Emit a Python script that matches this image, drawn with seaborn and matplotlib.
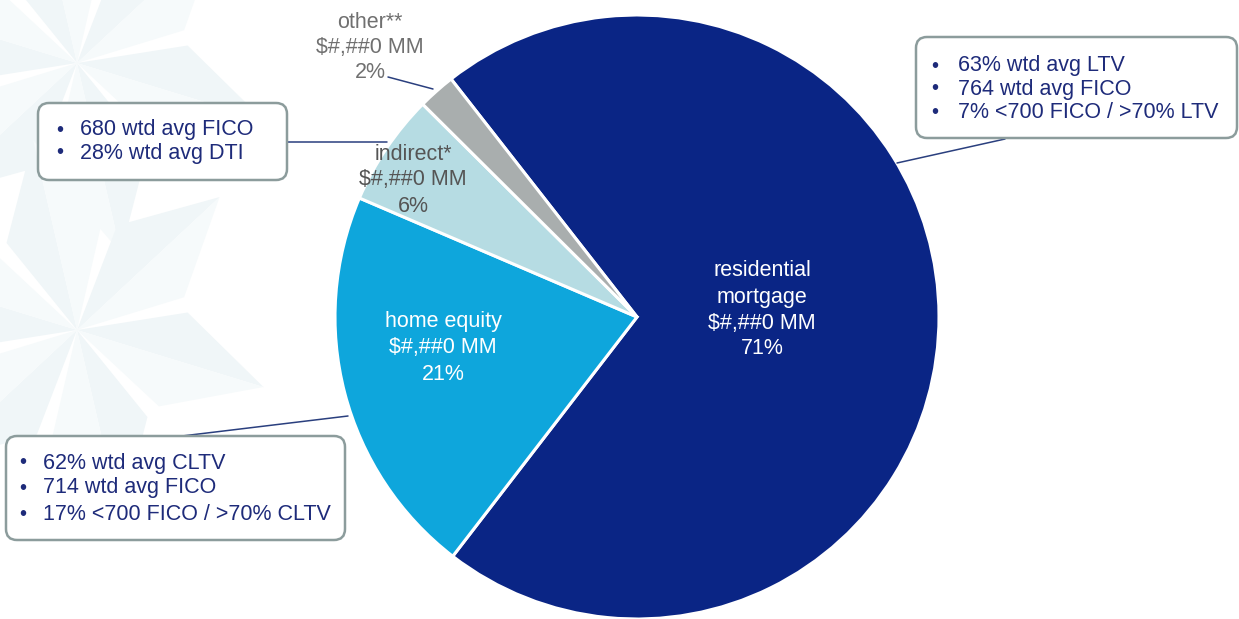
import numpy as np
import matplotlib
matplotlib.use("Agg")
import matplotlib.pyplot as plt
from matplotlib.patches import FancyBboxPatch, Polygon
import seaborn as sns

# Portfolio composition
segments = ["residential\nmortgage", "home equity", "indirect*", "other**"]
shares = [71, 21, 6, 2]
amount_label = "$#,##0 MM"

# Credit-quality callouts
resi_notes = ["63% wtd avg LTV", "764 wtd avg FICO", "7% <700 FICO / >70% LTV"]
heq_notes = ["62% wtd avg CLTV", "714 wtd avg FICO", "17% <700 FICO / >70% CLTV"]
indirect_notes = ["680 wtd avg FICO", "28% wtd avg DTI"]

sns.set_theme(style="white")
plt.rcParams["font.family"] = ["Liberation Sans", "DejaVu Sans"]

W, H = 1239, 619
slice_colors = ["#0a2585", "#0ea6dc", "#b6dce3", "#a9aeae"]
navy_text = "#1e2b7a"
box_edge = "#8c9c9c"

fig = plt.figure(figsize=(W / 100, H / 100), dpi=100)
fig.patch.set_facecolor("white")
ax = fig.add_axes([0, 0, 1, 1])


def yy(y):
    """Top-down pixel row to axis units."""
    return H - y


# faint snowflake motif in the background
def star(cx, cy):
    for k in range(6):
        th = np.deg2rad(43 + 60 * k)
        tip = (cx + 195 * np.cos(th), yy(cy) + 195 * np.sin(th))
        s1 = (cx + 112 * np.cos(th + np.deg2rad(26)), yy(cy) + 112 * np.sin(th + np.deg2rad(26)))
        s2 = (cx + 112 * np.cos(th - np.deg2rad(26)), yy(cy) + 112 * np.sin(th - np.deg2rad(26)))
        c = (cx, yy(cy))
        ax.add_patch(Polygon([c, s1, tip], closed=True, facecolor="#f0f6f8",
                             edgecolor="none", zorder=0))
        ax.add_patch(Polygon([c, tip, s2], closed=True, facecolor="#f6fafb",
                             edgecolor="none", zorder=0))


star(77, 63)
star(77, 330)

# pie
wedges, _ = ax.pie(
    shares,
    colors=slice_colors,
    startangle=128,
    counterclock=False,
    center=(637, yy(317)),
    radius=302,
    wedgeprops=dict(edgecolor="white", linewidth=2.2),
)
for w in wedges:
    w.set_zorder(2)

ax.set_xlim(0, W)
ax.set_ylim(0, H)
ax.set_aspect("equal")
ax.axis("off")

fs = 15.5


def stacked(x, ys, lines, color):
    for y, t in zip(ys, lines):
        ax.text(x, yy(y), t, ha="center", va="center", fontsize=fs,
                color=color, zorder=5)


def seg_lines(i):
    return segments[i].split("\n") + [amount_label, f"{shares[i]}%"]


stacked(762, [271, 297, 323, 349], seg_lines(0), "white")
stacked(443, [322, 348, 374], seg_lines(1), "white")
stacked(413, [154, 180, 206], seg_lines(2), "#555555")
stacked(370, [22, 47, 72], seg_lines(3), "#707070")

# leader lines
lc = "#2a3f7e"
ax.plot([388, 433], [yy(77), yy(89)], color=lc, lw=1.1, zorder=3)
ax.plot([287, 387], [yy(142), yy(142)], color=lc, lw=1.1, zorder=3)
ax.plot([182, 348], [yy(436), yy(416)], color=lc, lw=1.1, zorder=3)
ax.plot([1005, 897], [yy(139), yy(163)], color=lc, lw=1.1, zorder=3)


def callout(x0, y0, x1, y1, bullet_x, text_x, rows, notes):
    box = FancyBboxPatch((x0, yy(y1)), x1 - x0, y1 - y0,
                         boxstyle="round,pad=0,rounding_size=11",
                         facecolor="white", edgecolor=box_edge, linewidth=1.8,
                         zorder=4)
    ax.add_patch(box)
    for y, t in zip(rows, notes):
        ax.text(bullet_x, yy(y), "\u2022", ha="center", va="center",
                fontsize=fs - 1, color=navy_text, zorder=5)
        ax.text(text_x, yy(y), t, ha="left", va="center", fontsize=fs,
                color=navy_text, zorder=5)


callout(916, 37, 1237, 138, 935, 958, [66, 89, 112], resi_notes)
callout(38, 103, 287, 180, 60, 80, [130, 153], indirect_notes)
callout(6, 436, 345, 540, 23, 43, [463, 488, 514], heq_notes)

fig.savefig("out.png", dpi=100, facecolor="white")
